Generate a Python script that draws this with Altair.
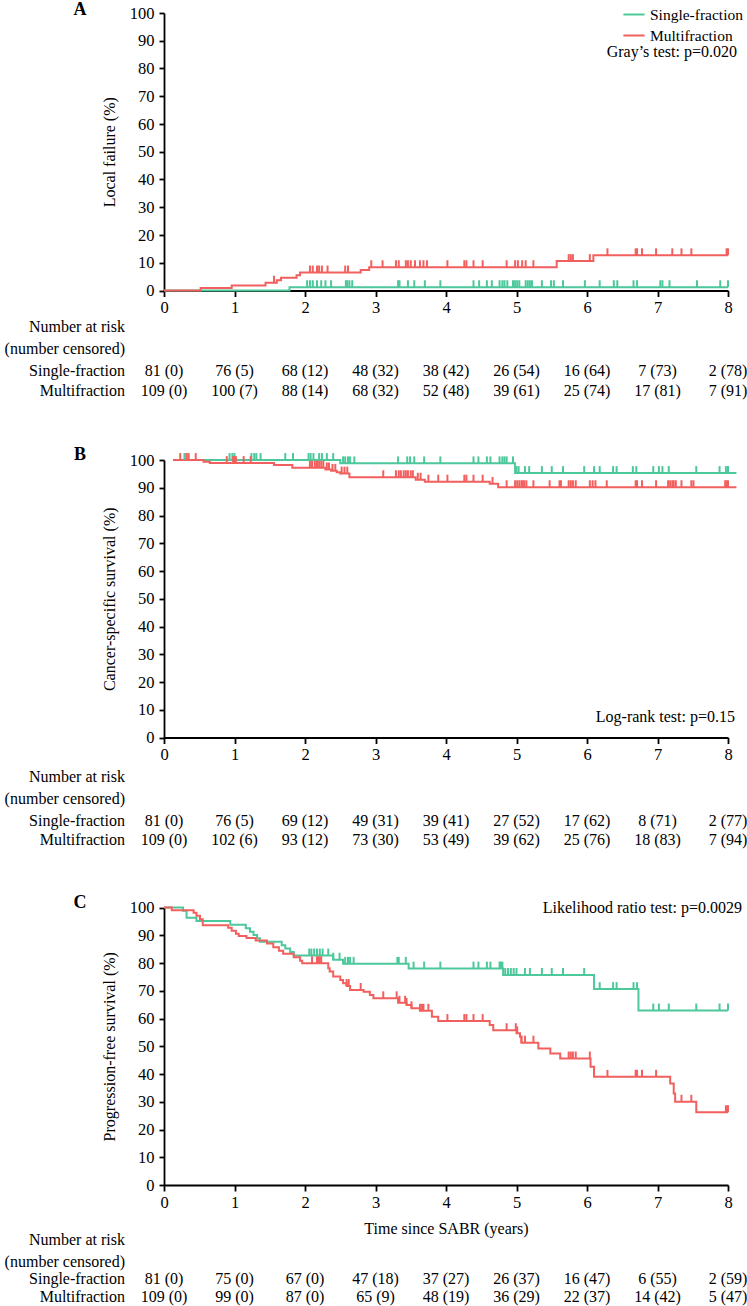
import altair as alt
import pandas as pd

FONT = "Liberation Serif"
FS = 16
AXIS_FS = 16.5
GREEN = "#4CC89B"
RED = "#F1605E"
GROUPS = ["Single-fraction", "Multifraction"]
YEARS = [0, 1, 2, 3, 4, 5, 6, 7, 8]
PCT_TICKS = list(range(0, 101, 10))

# ---------------- Panel A: local failure (cumulative incidence, %)
A_SF_T = [0, 1.78, 8.0]
A_SF_V = [0, 1.2, 1.2]
A_MF_T = [0, 0.52, 0.96, 1.44, 1.60, 1.66, 1.88, 1.93, 2.79, 2.91, 5.57, 6.09, 8.0]
A_MF_V = [0, 0.9, 1.8, 2.8, 3.7, 4.6, 5.5, 6.5, 7.4, 8.4, 10.6, 12.7, 12.7]
A_SF_CENS = [2.03, 2.07, 2.11, 2.17, 2.23, 2.29, 2.37, 2.58, 2.60, 2.63, 2.67, 3.32, 3.34,
             3.46, 3.55, 3.70, 3.92, 4.39, 4.47, 4.58, 4.65, 4.76, 4.80, 4.83, 4.87, 4.95,
             4.98, 5.01, 5.04, 5.13, 5.16, 5.19, 5.22, 5.36, 5.49, 5.53, 5.66, 5.97, 6.18,
             6.38, 6.43, 6.66, 6.71, 7.04, 7.07, 7.17, 7.56, 7.89, 8.0]
A_MF_CENS = [1.56, 2.07, 2.11, 2.17, 2.20, 2.24, 2.32, 2.57, 2.61, 2.94, 3.10, 3.29, 3.33,
             3.43, 3.46, 3.50, 3.56, 3.63, 3.68, 3.73, 4.02, 4.26, 4.29, 4.39, 4.52, 4.86,
             4.98, 5.02, 5.08, 5.13, 5.24, 5.74, 5.77, 5.80, 6.04, 6.29, 6.69, 6.71, 6.78,
             6.98, 7.21, 7.34, 7.48, 7.98, 8.0]
A_SF_RISK = [81, 76, 68, 48, 38, 26, 16, 7, 2]
A_SF_CENSN = [0, 5, 12, 32, 42, 54, 64, 73, 78]
A_MF_RISK = [109, 100, 88, 68, 52, 39, 25, 17, 7]
A_MF_CENSN = [0, 7, 14, 32, 48, 61, 74, 81, 91]

# ---------------- Panel B: cancer-specific survival (%)
B_SF_T = [0.13, 2.50, 4.98, 8.12]
B_SF_V = [100, 98.8, 95.3, 95.3]
B_MF_T = [0.13, 0.56, 0.65, 1.56, 1.82, 2.29, 2.37, 2.45, 2.50, 2.63, 3.57, 3.70, 4.62, 4.74, 8.12]
B_MF_V = [100, 99.4, 98.9, 98.2, 97.2, 96.6, 96.1, 95.6, 95.1, 93.8, 92.9, 92.2, 91.4, 90.2, 90.2]
B_SF_CENS = [0.29, 0.32, 0.93, 0.97, 1.00, 1.24, 1.28, 1.31, 1.37, 1.72, 1.83, 2.05, 2.08,
             2.12, 2.20, 2.24, 2.31, 2.40, 2.54, 2.57, 2.61, 2.64, 2.70, 3.32, 3.45, 3.49,
             3.55, 3.69, 3.92, 4.39, 4.46, 4.58, 4.63, 4.76, 4.80, 4.83, 4.86, 4.95, 5.00,
             5.03, 5.12, 5.18, 5.36, 5.50, 5.66, 5.96, 6.10, 6.18, 6.37, 6.42, 6.65, 6.70,
             6.94, 7.02, 7.07, 7.16, 7.55, 7.88, 7.97, 8.0]
B_MF_CENS = [0.23, 0.32, 0.35, 0.45, 0.89, 0.98, 1.00, 1.02, 1.13, 1.23, 2.07, 2.10, 2.14,
             2.17, 2.20, 2.23, 2.26, 2.31, 2.34, 2.39, 2.43, 2.52, 2.56, 2.60, 3.11, 3.29,
             3.33, 3.36, 3.40, 3.43, 3.46, 3.50, 3.53, 3.60, 3.64, 3.75, 3.89, 4.02, 4.26,
             4.29, 4.39, 4.52, 4.66, 4.86, 4.98, 5.01, 5.04, 5.07, 5.09, 5.11, 5.14, 5.24,
             5.47, 5.61, 5.63, 5.74, 5.77, 5.80, 5.84, 6.04, 6.08, 6.12, 6.28, 6.69, 6.71,
             6.78, 6.98, 7.15, 7.18, 7.21, 7.23, 7.26, 7.34, 7.48, 7.51, 7.96, 7.98, 8.0]
B_SF_RISK = [81, 76, 69, 49, 39, 27, 17, 8, 2]
B_SF_CENSN = [0, 5, 12, 31, 41, 52, 62, 71, 77]
B_MF_RISK = [109, 102, 93, 73, 53, 39, 25, 18, 7]
B_MF_CENSN = [0, 6, 12, 30, 49, 62, 76, 83, 94]

# ---------------- Panel C: progression-free survival (%)
C_SF_T = [0, 0.27, 0.32, 0.46, 0.94, 1.16, 1.22, 1.27, 1.32, 1.36, 1.67, 1.72, 1.79, 1.84,
          2.40, 2.54, 3.47, 4.81, 6.10, 6.73, 8.0]
C_SF_V = [100, 98.8, 96.3, 95.1, 93.8, 92.5, 91.3, 90.1, 88.9, 87.7, 86.4, 85.2, 84.0, 82.7,
          81.2, 79.7, 78.0, 75.7, 70.6, 62.9, 62.9]
C_MF_T = [0, 0.11, 0.42, 0.46, 0.51, 0.55, 0.91, 0.96, 1.02, 1.06, 1.17, 1.30, 1.46, 1.55,
          1.63, 1.69, 1.84, 1.93, 1.96, 2.33, 2.35, 2.40, 2.50, 2.54, 2.59, 2.64, 2.83, 2.92,
          2.97, 3.32, 3.44, 3.51, 3.63, 3.80, 3.89, 4.62, 4.67, 5.00, 5.05, 5.07, 5.31, 5.48,
          5.62, 6.05, 6.10, 7.18, 7.23, 7.25, 7.55, 8.0]
C_MF_V = [100, 99.0, 98.1, 97.0, 95.8, 93.6, 92.7, 91.6, 90.5, 89.7, 89.0, 88.1, 87.0, 85.7,
          84.4, 83.3, 82.1, 80.8, 79.9, 78.1, 76.9, 75.1, 73.9, 72.7, 71.7, 70.3, 69.6, 68.5,
          67.3, 65.7, 64.9, 63.7, 62.8, 60.6, 59.1, 57.7, 55.8, 54.7, 53.4, 51.3, 49.2, 47.4,
          45.6, 42.6, 39.0, 36.6, 33.0, 30.0, 26.2, 26.2]
C_SF_CENS = [2.06, 2.09, 2.13, 2.17, 2.21, 2.25, 2.33, 2.40, 2.49, 2.57, 2.61, 2.64, 2.69,
             3.31, 3.33, 3.43, 3.54, 3.69, 3.92, 4.39, 4.46, 4.58, 4.63, 4.76, 4.78, 4.80,
             4.84, 4.88, 4.92, 4.96, 5.00, 5.12, 5.19, 5.36, 5.50, 5.66, 5.96, 6.18, 6.37,
             6.42, 6.66, 6.71, 6.94, 7.02, 7.16, 7.55, 7.88, 8.0]
C_MF_CENS = [2.10, 2.17, 2.19, 2.21, 2.23, 2.59, 2.62, 2.79, 3.11, 3.30, 3.34, 3.42, 3.44,
             3.51, 3.63, 3.66, 3.68, 3.75, 4.02, 4.26, 4.29, 4.39, 4.52, 4.86, 4.99, 5.01,
             5.07, 5.12, 5.24, 5.74, 5.77, 5.80, 5.84, 6.04, 6.29, 6.69, 6.71, 6.78, 6.98,
             7.34, 7.48, 7.97, 7.99, 8.0]
C_SF_RISK = [81, 75, 67, 47, 37, 26, 16, 6, 2]
C_SF_CENSN = [0, 0, 0, 18, 27, 37, 47, 55, 59]
C_MF_RISK = [109, 99, 87, 65, 48, 36, 22, 14, 5]
C_MF_CENSN = [0, 0, 0, 9, 19, 29, 37, 42, 47]

# ---------------- layout (pixels, relative to plot origin)
PLOT_W = 564
PLOT_H = 1185
TICK_UP = 2.5  # censoring tick height in percentage points

X_SCALE = alt.Scale(domain=[0, 8], nice=False, zero=False)
COLOR_SCALE = alt.Scale(domain=GROUPS, range=[GREEN, RED])


def level_at(ts, vs, t):
    lvl = vs[0]
    for a, b in zip(ts, vs):
        if a <= t + 1e-9:
            lvl = b
        else:
            break
    return lvl


def text_layer(df, x, y, align="center", weight="normal", size=FS, field="s"):
    return alt.Chart(df).mark_text(
        font=FONT, fontSize=size, fontWeight=weight, color="black",
        align=align, baseline="middle", clip=False
    ).encode(x=x, y=y, text=f"{field}:N")


def note(txt, x, y, align="right", weight="normal", size=FS):
    return text_layer(pd.DataFrame({"s": [txt]}), alt.value(x), alt.value(y),
                      align=align, weight=weight, size=size)


def panel(curves, cens, y_bottom, y_top, ytitle, xtitle=None, legend=None):
    """Step curves with their own y axis and x axis, plus censoring ticks."""
    line_rows, tick_rows = [], []
    for g in GROUPS:
        ts, vs = curves[g]
        for t, v in zip(ts, vs):
            line_rows.append({"group": g, "t": t, "v": v})
        for t in cens[g]:
            lv = level_at(ts, vs, t)
            tick_rows.append({"group": g, "t": t, "lo": lv, "hi": lv + TICK_UP})
    yscale = alt.Scale(domain=[0, 100], range=[y_bottom, y_top], nice=False, zero=False)
    xaxis = alt.Axis(orient="bottom", offset=y_bottom - PLOT_H, values=YEARS,
                     title=xtitle if xtitle else "")
    line = alt.Chart(pd.DataFrame(line_rows)).mark_line(
        interpolate="step-after", strokeWidth=2, clip=False
    ).encode(
        x=alt.X("t:Q", scale=X_SCALE, axis=xaxis),
        y=alt.Y("v:Q", scale=yscale,
                axis=alt.Axis(orient="left", values=PCT_TICKS, title=ytitle)),
        color=alt.Color("group:N", scale=COLOR_SCALE, legend=legend),
    )
    ticks = alt.Chart(pd.DataFrame(tick_rows)).mark_rule(strokeWidth=2, clip=False).encode(
        x=alt.X("t:Q", scale=X_SCALE, axis=None),
        y=alt.Y("lo:Q", scale=yscale, axis=None),
        y2="hi:Q",
        color=alt.Color("group:N", scale=COLOR_SCALE, legend=None),
    )
    return [line, ticks]


def risk_table(sf_risk, sf_cens, mf_risk, mf_cens, ys):
    layers = [
        note("Number at risk", -39, ys[0]),
        note("(number censored)", -39, ys[1]),
        note("Single-fraction", -39, ys[2]),
        note("Multifraction", -39, ys[3]),
    ]
    for risk, cen, y in ((sf_risk, sf_cens, ys[2]), (mf_risk, mf_cens, ys[3])):
        df = pd.DataFrame({"t": YEARS, "s": [f"{r} ({c})" for r, c in zip(risk, cen)]})
        layers.append(text_layer(df, alt.X("t:Q", scale=X_SCALE, axis=None), alt.value(y)))
    return layers


legend = alt.Legend(
    orient="none", legendX=458, legendY=2.5, title=None, symbolType="stroke",
    symbolStrokeWidth=2, symbolSize=450, labelFont=FONT, labelFontSize=15.5,
    labelColor="black", labelOffset=4, padding=0, rowPadding=-1, labelLimit=0,
)

layers = []
layers += panel({GROUPS[0]: (A_SF_T, A_SF_V), GROUPS[1]: (A_MF_T, A_MF_V)},
                {GROUPS[0]: A_SF_CENS, GROUPS[1]: A_MF_CENS},
                290.5, 13.0, "Local failure (%)", legend=legend)
layers += panel({GROUPS[0]: (B_SF_T, B_SF_V), GROUPS[1]: (B_MF_T, B_MF_V)},
                {GROUPS[0]: B_SF_CENS, GROUPS[1]: B_MF_CENS},
                737.5, 460.0, "Cancer-specific survival (%)")
layers += panel({GROUPS[0]: (C_SF_T, C_SF_V), GROUPS[1]: (C_MF_T, C_MF_V)},
                {GROUPS[0]: C_SF_CENS, GROUPS[1]: C_MF_CENS},
                1185.0, 907.5, "Progression-free survival (%)",
                xtitle="Time since SABR (years)")

layers += [note("A", -84, 10, align="center", weight="bold", size=18),
           note("B", -84, 455, align="center", weight="bold", size=18),
           note("C", -84, 903, align="center", weight="bold", size=18),
           note("Gray\u2019s test: p=0.020", 573, 52),
           note("Log-rank test: p=0.15", 571, 717),
           note("Likelihood ratio test: p=0.0029", 578, 908)]
layers += risk_table(A_SF_RISK, A_SF_CENSN, A_MF_RISK, A_MF_CENSN, [327, 349, 371, 391])
layers += risk_table(B_SF_RISK, B_SF_CENSN, B_MF_RISK, B_MF_CENSN, [777, 799, 821, 840])
layers += risk_table(C_SF_RISK, C_SF_CENSN, C_MF_RISK, C_MF_CENSN, [1240, 1262, 1279, 1297])

chart = alt.layer(*layers).resolve_scale(y="independent").resolve_axis(
    x="independent", y="independent"
).properties(
    width=PLOT_W, height=PLOT_H,
    autosize=alt.AutoSizeParams(type="none"),
    padding={"left": 164, "right": 19, "top": 0, "bottom": 121},
).configure_view(stroke=None).configure_axis(
    grid=False, domainColor="black", domainWidth=1.8, tickColor="black", tickWidth=1.8,
    labelFont=FONT, labelFontSize=AXIS_FS, labelColor="black", labelFlush=False,
    labelOverlap=False, titleFont=FONT, titleFontSize=FS, titleFontWeight="normal",
    titleColor="black",
).configure_axisX(tickSize=6, labelPadding=3, titlePadding=10).configure_axisY(
    tickSize=5, labelPadding=5, titlePadding=12
)

chart.save("out.html", embed_options={"renderer": "svg", "actions": False})
